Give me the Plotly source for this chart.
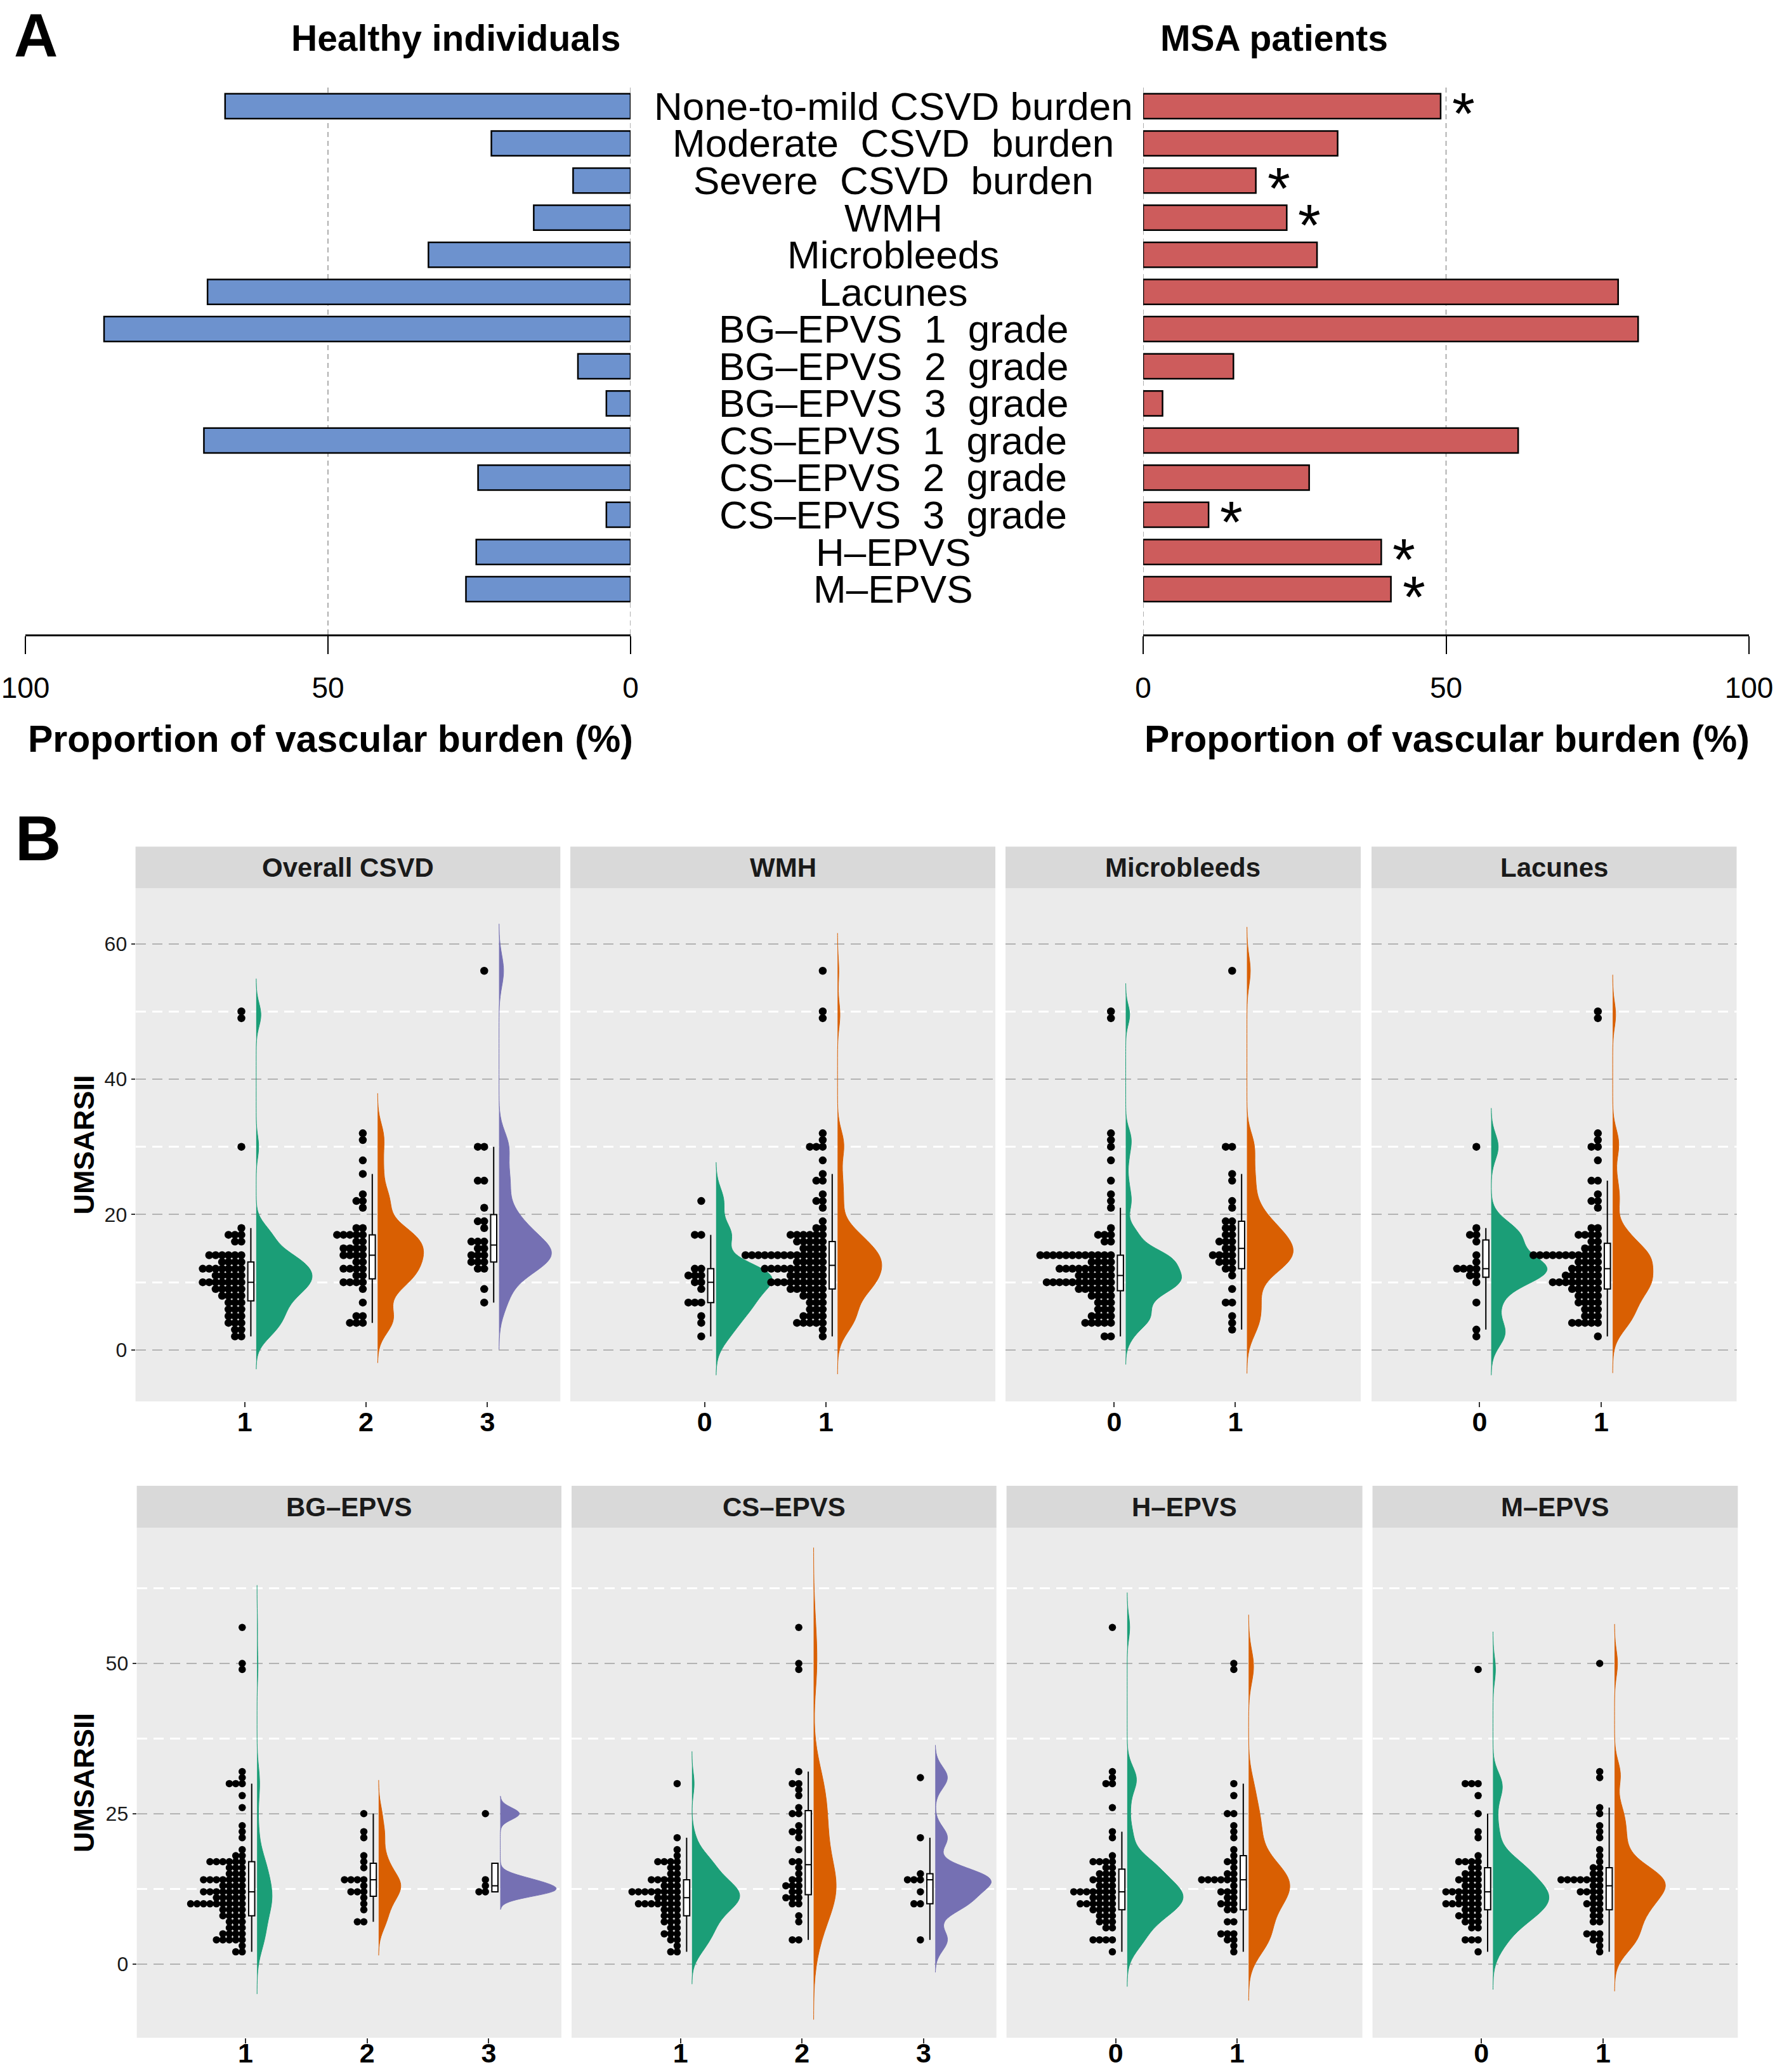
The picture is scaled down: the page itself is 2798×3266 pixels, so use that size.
import numpy as np
import plotly.graph_objects as go

W, H = 2798, 3266
FONT = "Liberation Sans, Arial, sans-serif"

# ---------------- Panel A data ----------------
burden_labels = ["None-to-mild CSVD burden", "Moderate  CSVD  burden", "Severe  CSVD  burden",
                 "WMH", "Microbleeds", "Lacunes",
                 "BG–EPVS  1  grade", "BG–EPVS  2  grade", "BG–EPVS  3  grade",
                 "CS–EPVS  1  grade", "CS–EPVS  2  grade", "CS–EPVS  3  grade",
                 "H–EPVS", "M–EPVS"]
healthy_pct = [67.0, 23.0, 9.5, 16.0, 33.4, 69.9, 87.0, 8.7, 4.0, 70.5, 25.2, 4.0, 25.5, 27.2]
msa_pct = [49.1, 32.1, 18.6, 23.7, 28.7, 78.4, 81.7, 14.9, 3.2, 61.9, 27.4, 10.8, 39.3, 40.9]
msa_significant = [True, False, True, True, False, False, False, False, False, False, False, True, True, True]
pct_ticks = [0, 50, 100]

# ---------------- Panel B data (UMSARSII value -> number of patients) ----------------
panel_titles = ["Overall CSVD", "WMH", "Microbleeds", "Lacunes", "BG–EPVS", "CS–EPVS", "H–EPVS", "M–EPVS"]

csvd_groups = ["1", "2", "3"]
csvd_1_vals = [2, 3, 4, 5, 6, 7, 8, 9, 10, 11, 12, 13, 14, 16, 17, 18, 30, 49, 50]
csvd_1_cnts = [2, 2, 3, 3, 3, 3, 4, 5, 7, 5, 7, 4, 6, 2, 3, 1, 1, 1, 1]
csvd_2_vals = [4, 5, 7, 9, 10, 11, 12, 13, 14, 15, 16, 17, 18, 21, 22, 23, 26, 28, 31, 32]
csvd_2_cnts = [3, 2, 1, 1, 4, 2, 4, 2, 4, 4, 2, 5, 2, 1, 2, 1, 1, 1, 1, 1]
csvd_3_vals = [7, 9, 12, 13, 14, 15, 16, 18, 19, 21, 25, 30, 56]
csvd_3_cnts = [1, 1, 2, 3, 3, 2, 3, 1, 2, 1, 2, 2, 1]

wmh_groups = ["0", "1"]
wmh_0_vals = [2, 4, 5, 7, 9, 10, 11, 12, 17, 22]
wmh_0_cnts = [1, 1, 1, 3, 1, 2, 3, 2, 2, 1]
wmh_1_vals = [2, 3, 4, 5, 6, 7, 8, 9, 10, 11, 12, 13, 14, 15, 16, 17, 18, 19, 21, 22, 23, 25, 26, 28, 30, 31, 32, 49, 50, 56]
wmh_1_cnts = [1, 1, 5, 4, 3, 3, 4, 6, 9, 6, 10, 5, 13, 4, 5, 6, 2, 1, 1, 2, 1, 2, 1, 1, 3, 1, 1, 1, 1, 1]

mb_groups = ["0", "1"]
mb_0_vals = [2, 4, 5, 6, 7, 8, 9, 10, 11, 12, 13, 14, 16, 17, 18, 21, 22, 23, 25, 28, 30, 31, 32, 49, 50]
mb_0_cnts = [2, 5, 4, 3, 3, 4, 6, 11, 6, 9, 4, 12, 2, 3, 1, 1, 1, 1, 1, 1, 1, 1, 1, 1, 1]
mb_1_vals = [3, 4, 5, 7, 9, 11, 12, 13, 14, 15, 16, 17, 18, 19, 21, 22, 25, 26, 30, 56]
mb_1_cnts = [1, 1, 1, 2, 1, 1, 2, 3, 4, 2, 3, 2, 2, 2, 1, 1, 1, 1, 2, 1]

lac_groups = ["0", "1"]
lac_0_vals = [2, 3, 7, 10, 11, 12, 13, 14, 16, 17, 18, 30]
lac_0_cnts = [1, 1, 1, 1, 2, 4, 1, 1, 1, 2, 1, 1]
lac_1_vals = [2, 4, 5, 6, 7, 8, 9, 10, 11, 12, 13, 14, 15, 16, 17, 18, 21, 22, 23, 25, 28, 30, 31, 32, 49, 50]
lac_1_cnts = [1, 5, 3, 3, 4, 4, 5, 8, 6, 5, 4, 11, 3, 2, 4, 2, 1, 2, 1, 2, 1, 2, 1, 1, 1, 1]

bg_groups = ["1", "2", "3"]
bg_1_vals = [2, 3, 4, 5, 6, 7, 8, 9, 10, 11, 12, 13, 14, 15, 16, 17, 18, 19, 21, 22, 23, 26, 28, 30, 31, 32, 49, 50, 56]
bg_1_cnts = [2, 1, 5, 4, 3, 3, 4, 4, 9, 5, 7, 4, 7, 3, 3, 6, 2, 1, 1, 1, 1, 1, 1, 3, 1, 1, 1, 1, 1]
bg_2_vals = [7, 9, 10, 11, 12, 13, 14, 16, 17, 18, 21, 22, 25]
bg_2_cnts = [2, 1, 1, 1, 3, 1, 4, 1, 1, 1, 1, 1, 1]
bg_3_vals = [12, 13, 14, 25]
bg_3_cnts = [2, 1, 1, 1]

cs_groups = ["1", "2", "3"]
cs_1_vals = [2, 3, 4, 5, 6, 7, 8, 9, 10, 11, 12, 13, 14, 15, 16, 17, 18, 19, 21, 30]
cs_1_cnts = [2, 1, 2, 3, 2, 3, 3, 3, 7, 4, 8, 3, 5, 2, 2, 4, 1, 1, 1, 1]
cs_2_vals = [4, 7, 8, 10, 11, 12, 13, 14, 15, 16, 17, 19, 21, 22, 23, 25, 26, 28, 29, 30, 32, 49, 50, 56]
cs_2_cnts = [2, 1, 1, 2, 3, 2, 3, 2, 1, 1, 2, 1, 1, 2, 1, 2, 1, 1, 1, 2, 1, 1, 1, 1]
cs_3_vals = [4, 10, 12, 14, 15, 21, 31]
cs_3_cnts = [1, 2, 1, 3, 1, 1, 1]

h_groups = ["0", "1"]
h_0_vals = [2, 4, 6, 7, 8, 9, 10, 11, 12, 13, 14, 15, 16, 17, 18, 21, 22, 26, 30, 31, 32, 56]
h_0_cnts = [1, 4, 2, 3, 3, 4, 6, 4, 7, 3, 4, 3, 2, 4, 1, 1, 1, 1, 2, 1, 1, 1]
h_1_vals = [2, 3, 4, 5, 7, 9, 10, 11, 12, 13, 14, 15, 16, 17, 18, 19, 21, 22, 23, 25, 28, 30, 49, 50]
h_1_cnts = [1, 1, 2, 3, 2, 2, 3, 2, 3, 1, 6, 2, 1, 2, 1, 1, 1, 1, 1, 2, 1, 1, 1, 1]

m_groups = ["0", "1"]
m_0_vals = [2, 4, 6, 7, 8, 9, 10, 11, 12, 13, 14, 15, 16, 17, 18, 21, 22, 25, 28, 30, 49]
m_0_cnts = [1, 3, 2, 3, 4, 3, 6, 4, 6, 3, 4, 3, 2, 4, 1, 1, 1, 1, 1, 3, 1]
m_1_vals = [2, 3, 4, 5, 7, 8, 9, 10, 11, 12, 13, 14, 15, 16, 17, 18, 19, 21, 22, 23, 25, 26, 31, 32, 50]
m_1_cnts = [1, 1, 2, 3, 2, 2, 2, 3, 2, 4, 2, 7, 2, 2, 1, 1, 1, 1, 1, 1, 1, 1, 1, 1, 1]

top_ticks = [0, 20, 40, 60]
top_minor = [10, 30, 50]
bottom_ticks = [0, 25, 50]
bottom_minor = [12.5, 37.5, 62.5]

panels = [
    (csvd_groups, [(csvd_1_vals, csvd_1_cnts), (csvd_2_vals, csvd_2_cnts), (csvd_3_vals, csvd_3_cnts)]),
    (wmh_groups, [(wmh_0_vals, wmh_0_cnts), (wmh_1_vals, wmh_1_cnts)]),
    (mb_groups, [(mb_0_vals, mb_0_cnts), (mb_1_vals, mb_1_cnts)]),
    (lac_groups, [(lac_0_vals, lac_0_cnts), (lac_1_vals, lac_1_cnts)]),
    (bg_groups, [(bg_1_vals, bg_1_cnts), (bg_2_vals, bg_2_cnts), (bg_3_vals, bg_3_cnts)]),
    (cs_groups, [(cs_1_vals, cs_1_cnts), (cs_2_vals, cs_2_cnts), (cs_3_vals, cs_3_cnts)]),
    (h_groups, [(h_0_vals, h_0_cnts), (h_1_vals, h_1_cnts)]),
    (m_groups, [(m_0_vals, m_0_cnts), (m_1_vals, m_1_cnts)]),
]

# ---------------- styling / geometry ----------------
DARK2 = ["#1B9E77", "#D95F02", "#7570B3"]
BLUE = "#6D92CE"
RED = "#CD5C5C"
PANEL_BG = "#EBEBEB"
STRIP_BG = "#D9D9D9"

panel_geom = [
    (213.6, 883.3, [0.101, 3.6], 0),
    (899.0, 1569.0, [-1.105, 2.394], 0),
    (1585.0, 2145.0, [-0.897, 2.034], 0),
    (2162.0, 2737.5, [-0.89, 2.115], 0),
    (215.6, 885.0, [0.106, 3.598], 1),
    (901.0, 1570.7, [0.105, 3.598], 1),
    (1586.6, 2147.6, [-0.899, 2.032], 1),
    (2163.5, 2739.4, [-0.896, 2.109], 1),
]
row_geom = [
    dict(top=1400, bottom=2209, strip=(1334.5, 1400), yrange=[-7.6, 68.2], ticks=top_ticks, minor=top_minor,
         dot=12.5, xstandoff=-14),
    dict(top=2408, bottom=3212, strip=(2342, 2408), yrange=[-12.3, 72.6], ticks=bottom_ticks, minor=bottom_minor,
         dot=11.5, xstandoff=-22),
]
VIOLIN_OFFSET = 0.095
BOX_OFFSET = 0.051
BOX_WIDTH = 0.05
DOT_OFFSET = -0.027
DOT_STEP = 0.053
VIOLIN_HALF = 0.46


def xd(a, b):
    return [a / W, b / W]


def yd(top, bottom):
    return [1 - bottom / H, 1 - top / H]


def nrd0(x):
    x = np.asarray(x, float)
    sd = x.std(ddof=1)
    q75, q25 = np.percentile(x, [75, 25])
    lo = min(sd, (q75 - q25) / 1.34)
    if lo <= 0:
        lo = sd if sd > 0 else 1.0
    return 0.9 * lo * len(x) ** -0.2


def kde_peak(x, bw):
    x = np.asarray(x, float)
    grid = np.linspace(x.min() - 3 * bw, x.max() + 3 * bw, 2000)
    d = np.exp(-0.5 * ((grid[:, None] - x[None, :]) / bw) ** 2).sum(1) / (len(x) * bw * np.sqrt(2 * np.pi))
    return d.max()


fig = go.Figure()
layout = dict(
    width=W, height=H, autosize=False,
    margin=dict(l=0, r=0, t=0, b=0, pad=0, autoexpand=False),
    paper_bgcolor="white", plot_bgcolor="rgba(0,0,0,0)",
    font=dict(family=FONT, color="black"),
    showlegend=False,
)
shapes = []
annotations = []

# ---------------- Panel A ----------------
cat_range = [14.22, -0.52]
fig.add_trace(go.Bar(x=healthy_pct, y=burden_labels, orientation="h", width=0.67,
                     marker=dict(color=BLUE, line=dict(color="black", width=2.5)),
                     xaxis="x", yaxis="y", hoverinfo="skip"))
fig.add_trace(go.Bar(x=msa_pct, y=burden_labels, orientation="h", width=0.67,
                     marker=dict(color=RED, line=dict(color="black", width=2.5)),
                     xaxis="x2", yaxis="y2", hoverinfo="skip"))

a_x_common = dict(showline=True, linecolor="black", linewidth=3, ticks="outside", ticklen=28,
                  tickwidth=2, tickcolor="black", tickvals=pct_ticks, ticktext=[str(t) for t in pct_ticks],
                  tickfont=dict(size=46, family=FONT, color="black"), showgrid=False, zeroline=False,
                  ticklabelstandoff=14, ticklabeloverflow="allow")
a_y_common = dict(type="category", categoryorder="array", categoryarray=burden_labels, range=cat_range,
                  showticklabels=False, showgrid=False, zeroline=False, showline=False, ticks="",
                  domain=yd(137, 1000))
layout["xaxis"] = dict(a_x_common, domain=xd(40, 994), range=[100, 0], anchor="y")
layout["yaxis"] = dict(a_y_common, anchor="x")
layout["xaxis2"] = dict(a_x_common, domain=xd(1802, 2757), range=[0, 100], anchor="y2")
layout["yaxis2"] = dict(a_y_common, anchor="x2")

for ax in ["x", "x2"]:
    for gv in [0, 50]:
        shapes.append(dict(type="line", xref=ax, yref="y domain" if ax == "x" else "y2 domain",
                           x0=gv, x1=gv, y0=0, y1=1, layer="below",
                           line=dict(color="#AFAFAF", width=2, dash="8px,6px")))

for lab in burden_labels:
    annotations.append(dict(xref="paper", yref="y", x=1408 / W, y=lab, text=lab.replace(" ", "\u00a0"),
                            showarrow=False, xanchor="center", yanchor="middle",
                            font=dict(size=62, family=FONT, color="black")))
for lab, v, sig in zip(burden_labels, msa_pct, msa_significant):
    if sig:
        annotations.append(dict(xref="x2", yref="y2", x=v, y=lab, text="*", showarrow=False,
                                xanchor="center", yanchor="middle", xshift=36, yshift=-12,
                                font=dict(size=92, family=FONT, color="black")))

annotations += [
    dict(xref="paper", yref="paper", x=57 / W, y=1.0, text="<b>A</b>", showarrow=False,
         xanchor="center", yanchor="top", font=dict(size=96, family=FONT)),
    dict(xref="paper", yref="paper", x=60 / W, y=1 - 1321 / H, text="<b>B</b>", showarrow=False,
         xanchor="center", yanchor="middle", font=dict(size=100, family=FONT)),
    dict(xref="paper", yref="paper", x=718 / W, y=1 - 60 / H, text="<b>Healthy individuals</b>",
         showarrow=False, xanchor="center", yanchor="middle", font=dict(size=57, family=FONT)),
    dict(xref="paper", yref="paper", x=2008 / W, y=1 - 60 / H, text="<b>MSA patients</b>",
         showarrow=False, xanchor="center", yanchor="middle", font=dict(size=57, family=FONT)),
    dict(xref="paper", yref="paper", x=521 / W, y=1 - 1165 / H, text="<b>Proportion of vascular burden (%)</b>",
         showarrow=False, xanchor="center", yanchor="middle", font=dict(size=59, family=FONT)),
    dict(xref="paper", yref="paper", x=2281 / W, y=1 - 1165 / H, text="<b>Proportion of vascular burden (%)</b>",
         showarrow=False, xanchor="center", yanchor="middle", font=dict(size=59, family=FONT)),
]

# ---------------- Panel B ----------------
for pi, ((groups, gdata), title, (px0, px1, xr, row)) in enumerate(zip(panels, panel_titles, panel_geom)):
    n = pi + 3
    xa, ya = f"x{n}", f"y{n}"
    rg = row_geom[row]
    positions = [float(g) for g in groups]

    samples = [np.repeat(np.asarray(v, float), c) for v, c in gdata]
    bws = [nrd0(s) for s in samples]
    peaks = [kde_peak(s, b) for s, b in zip(samples, bws)]
    pmax = max(peaks)

    for gi, (pos, s, bw, pk, (vals, cnts)) in enumerate(zip(positions, samples, bws, peaks, gdata)):
        col = DARK2[gi]
        fig.add_trace(go.Violin(
            y=s, x0=pos + VIOLIN_OFFSET, width=2 * VIOLIN_HALF * pk / pmax, side="positive",
            points=False, fillcolor=col, line=dict(color=col, width=1), opacity=1,
            bandwidth=bw, spanmode="manual", span=[s.min() - 3 * bw, s.max() + 3 * bw],
            box=dict(visible=False), meanline=dict(visible=False), scalemode="width",
            xaxis=xa, yaxis=ya, hoverinfo="skip"))
        fig.add_trace(go.Box(
            y=s, x0=pos + BOX_OFFSET, width=BOX_WIDTH, fillcolor="white",
            line=dict(color="black", width=2), boxpoints="outliers", marker=dict(opacity=0, size=1),
            whiskerwidth=0, quartilemethod="linear", xaxis=xa, yaxis=ya, hoverinfo="skip"))
        dx, dy = [], []
        for v, c in zip(vals, cnts):
            for k in range(c):
                dx.append(pos + DOT_OFFSET - k * DOT_STEP)
                dy.append(v)
        fig.add_trace(go.Scatter(x=dx, y=dy, mode="markers",
                                 marker=dict(color="black", size=rg["dot"], line=dict(width=0)),
                                 xaxis=xa, yaxis=ya, hoverinfo="skip"))

    first = pi in (0, 4)
    layout[f"xaxis{n}"] = dict(domain=xd(px0, px1), range=xr, anchor=ya, tickvals=positions, ticktext=groups,
                               ticks="outside", ticklen=8, tickwidth=2, tickcolor="#333333",
                               showgrid=False, zeroline=False, showline=False,
                               ticklabelstandoff=rg["xstandoff"], ticklabeloverflow="allow",
                               tickfont=dict(size=43, family=FONT, color="black", weight="bold"))
    layout[f"yaxis{n}"] = dict(domain=yd(rg["top"], rg["bottom"]), range=rg["yrange"], anchor=xa,
                               tickvals=rg["ticks"], ticktext=[str(t) for t in rg["ticks"]],
                               showticklabels=first, ticks="outside" if first else "", ticklen=6,
                               tickwidth=2, tickcolor="#333333",
                               tickfont=dict(size=32, family=FONT, color="#1a1a1a"),
                               showgrid=True, gridcolor="#B3B3B3", gridwidth=2, griddash="16px,10px",
                               minor=dict(tickvals=rg["minor"], showgrid=True, gridcolor="white",
                                          gridwidth=3, ticks=""),
                               zeroline=False, showline=False)
    shapes.append(dict(type="rect", xref=f"{xa} domain", yref=f"{ya} domain", x0=0, x1=1, y0=0, y1=1,
                       fillcolor=PANEL_BG, line=dict(width=0), layer="below"))
    s0, s1 = rg["strip"]
    shapes.append(dict(type="rect", xref="paper", yref="paper", x0=px0 / W, x1=px1 / W,
                       y0=1 - s1 / H, y1=1 - s0 / H, fillcolor=STRIP_BG, line=dict(width=0), layer="below"))
    annotations.append(dict(xref="paper", yref="paper", x=(px0 + px1) / 2 / W, y=1 - (s0 + s1) / 2 / H,
                            text=f"<b>{title}</b>", showarrow=False, xanchor="center", yanchor="middle",
                            font=dict(size=42, family=FONT, color="#1a1a1a")))

for rg in row_geom:
    annotations.append(dict(xref="paper", yref="paper", x=132 / W, y=1 - (rg["top"] + rg["bottom"]) / 2 / H,
                            text="<b>UMSARSII</b>", textangle=-90, showarrow=False,
                            xanchor="center", yanchor="middle", font=dict(size=45, family=FONT)))

layout["shapes"] = shapes
layout["annotations"] = annotations
layout["violinmode"] = "overlay"
layout["boxmode"] = "overlay"
fig.update_layout(**layout)

fig.write_html("out.html", config={"displayModeBar": False},
               post_script="document.body.style.margin='0';")
